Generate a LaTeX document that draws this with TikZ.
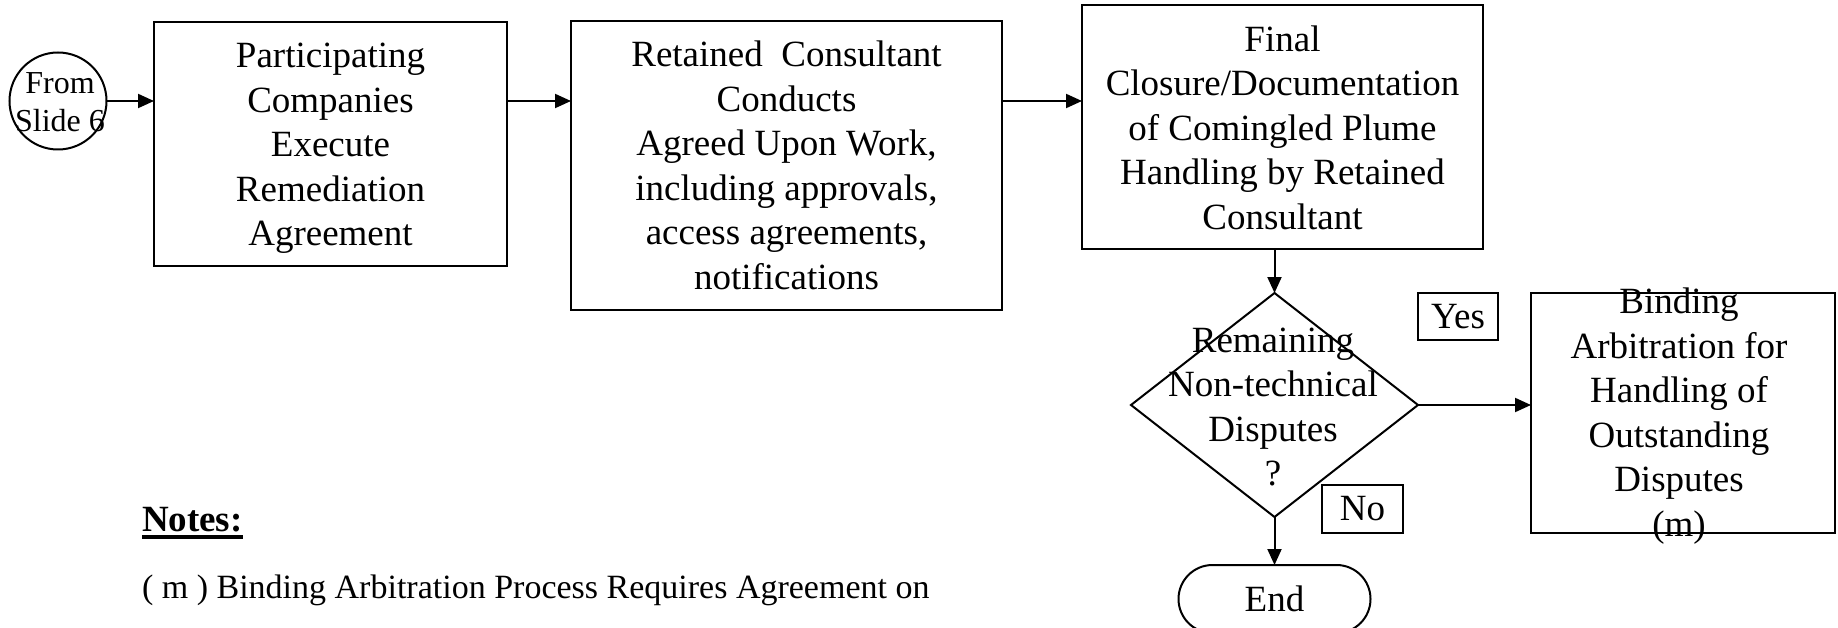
\documentclass[tikz,border=0pt]{standalone}
\usepackage{fontspec}
\setmainfont{Liberation Serif}
\usetikzlibrary{arrows.meta,shapes.geometric}
\begin{document}
\begin{tikzpicture}[x=1pt,y=-1pt,
  line width=2pt,
  every node/.style={inner sep=0pt, outer sep=0pt},
  body/.style={font=\fontsize{37}{44.5}\selectfont, align=center},
  small/.style={font=\fontsize{32}{38}\selectfont, align=center},
  box/.style={draw, rectangle},
  flow/.style={-{Triangle[length=16pt,width=14pt]}},
]
\useasboundingbox (0,0) rectangle (1838,628);

% connector row of the top line of boxes
\coordinate (row) at (0,101);

% start connector and the three process boxes
\node[draw, circle, minimum size=97pt] (from) at (58,101) {};
\node[small] (fromtxt) at (60,102.5) {From\\Slide 6};

\node[box, minimum width=353pt, minimum height=244pt] (exec) at (330.5,144) {};
\node[body] (exectxt) at (330.5,148.5)
  {Participating\\Companies\\Execute\\Remediation\\Agreement};
\node[box, body, minimum width=431pt, minimum height=289pt] (work) at (786.5,165.5)
  {Retained\ \ Consultant\\Conducts\\Agreed Upon Work,\\including approvals,\\access agreements,\\notifications};
\node[box, body, minimum width=401pt, minimum height=244pt] (close) at (1282.5,127.5)
  {Final\\Closure/Documentation\\of Comingled Plume\\Handling by Retained\\Consultant};

% decision
\node[draw, diamond, minimum width=287pt, minimum height=224pt] (dec) at (1274.5,405) {};
\node[body] (dectxt) at (1273,407) {Remaining\\Non-technical\\Disputes\\?};

% arbitration box
\node[box, minimum width=304pt, minimum height=240pt] (arb) at (1683,413) {};
\node[body] (arbtxt) at (1679,416) {Binding\\Arbitration for\\Handling of\\Outstanding\\Disputes\\(m)};

% branch labels
\node[box, body, minimum width=80pt, minimum height=47pt] (yes) at (1458,316.5) {Yes};
\node[box, body, minimum width=81pt, minimum height=48pt] (no) at (1362.5,509) {No};

% terminator
\node[draw, rectangle, rounded corners=34pt, minimum width=192pt, minimum height=68pt, body] (end) at (1274.5,599) {End};

% connectors
\draw[flow] (from.east |- row) -- (exec.west |- row);
\draw[flow] (exec.east |- row) -- (work.west |- row);
\draw[flow] (work.east |- row) -- (close.west |- row);
\draw[flow] (dec.north |- close.south) -- (dec.north);
\draw[flow] (dec.east) -- (dec.east -| arb.west);
\draw[flow] (dec.south) -- (end.north);

% notes
\node[font=\fontsize{37}{44.5}\selectfont\bfseries, anchor=base west] (notes) at (142,531) {Notes:};
\draw[line width=3.5pt] ([yshift=-6pt]notes.base west) -- ([yshift=-6pt]notes.base east);
\node[font=\fontsize{34}{40}\selectfont, anchor=base west] (note) at (142,598)
  {( m ) Binding Arbitration Process Requires Agreement on};
\end{tikzpicture}
\end{document}
